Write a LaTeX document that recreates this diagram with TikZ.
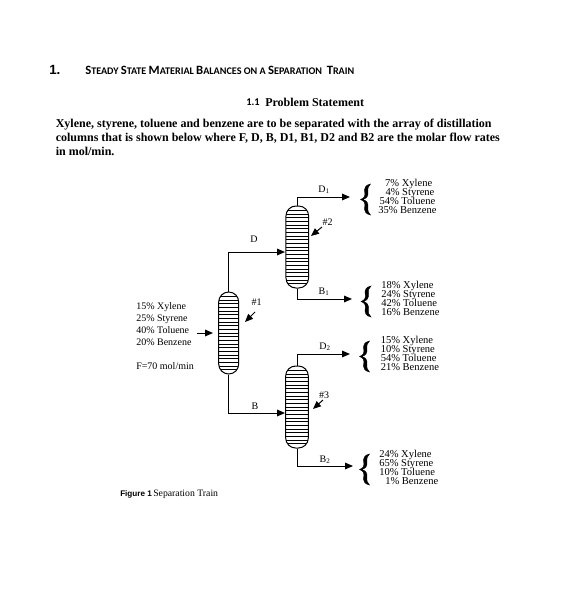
\documentclass[tikz,border=0pt]{standalone}
\usepackage{fontspec}
\usetikzlibrary{arrows.meta}
\setmainfont{Liberation Serif}
\newfontfamily\hdfont{Carlito}
\newfontfamily\arialfont{Liberation Sans}
\newcommand{\pxfont}[2]{\fontsize{#1}{#2}\selectfont}
\newcommand{\capsc}[1]{{\pxfont{9.5}{10}#1}}
\newcommand{\compfont}{\pxfont{7.9}{6.75}\lineskiplimit=-20pt\relax\lineskip=0pt\relax}
\tikzset{
  x=0.75pt,y=-0.75pt,
  flow/.style={draw,line width=0.75pt,-{Triangle[length=6pt,width=5pt]}},
  column/.style={draw,line width=0.75pt,rectangle,rounded corners=7.5pt,minimum width=17pt,minimum height=61.5pt,inner sep=0pt,
    path picture={
      \foreach \k in {-10,...,10}
        \draw[line width=0.7pt] ([yshift=\k*2.75pt]path picture bounding box.west) -- ([yshift=\k*2.75pt]path picture bounding box.east);
    }},
  txt/.style={inner sep=0pt,font=\pxfont{7.5}{9}},
  comp/.style={inner sep=0pt,font=\compfont,anchor=west},
  bracemark/.style={fill=black,draw=black,line width=0.3pt},
}
\newcommand{\bracepath}[2]{%
  \path[bracemark] (#1+10,#2) .. controls (#1+5,#2+1) and (#1+3.6,#2+4) .. (#1+4.2,#2+8)
   .. controls (#1+4.8,#2+12) and (#1+4,#2+14) .. (#1,#2+15.5)
   .. controls (#1+4,#2+17) and (#1+4.8,#2+19) .. (#1+4.2,#2+23)
   .. controls (#1+3.6,#2+27) and (#1+5,#2+30) .. (#1+10,#2+31)
   .. controls (#1+7.8,#2+29) and (#1+7.1,#2+27) .. (#1+7.4,#2+23)
   .. controls (#1+7.7,#2+19) and (#1+6.5,#2+17) .. (#1+2.5,#2+15.5)
   .. controls (#1+6.5,#2+14) and (#1+7.7,#2+12) .. (#1+7.4,#2+8)
   .. controls (#1+7.1,#2+4) and (#1+7.8,#2+2) .. (#1+10,#2) -- cycle;}
\begin{document}
\begin{tikzpicture}
\useasboundingbox[fill=white] (0,0) rectangle (563,613);
% headings
\node[inner sep=0pt,anchor=west,font=\arialfont\bfseries\pxfont{10}{12}] (num) at (49,69.5) {1.};
\node[inner sep=0pt,anchor=west,font=\hdfont\bfseries\pxfont{7.6}{9}] (title) at (85,70.5)
 {\capsc{S}TEADY \capsc{S}TATE \capsc{M}ATERIAL \capsc{B}ALANCES ON A \capsc{S}EPARATION\ \ \capsc{T}RAIN};
\node[inner sep=0pt,anchor=west,font=\hdfont\bfseries\pxfont{7.8}{9}] (sec) at (246,102.5) {1.1};
\node[inner sep=0pt,anchor=west,font=\bfseries\pxfont{9}{10}] (stmt) at (265,102) {Problem Statement};
\node[inner sep=0pt,anchor=north west,align=left,font=\bfseries\pxfont{9}{10.6}] (para) at (55.5,119)
 {Xylene, styrene, toluene and benzene are to be separated with the array of distillation\\
  columns that is shown below where F, D, B, D1, B1, D2 and B2 are the molar flow rates\\
  in mol/min.};
% columns
\node[column,minimum width=15pt] (c1) at (228.7,333) {};
\node[column] (c2) at (297.3,247) {};
\node[column] (c3) at (297,407) {};
% free ends
\coordinate (feedS) at (197,333);
\coordinate (feedE) at (213,333);
\coordinate (inTwo) at (285,252);
\coordinate (inThree) at (285,413);
\coordinate (dOneE) at (350,197);
\coordinate (bOneE) at (352,299);
\coordinate (dTwoE) at (350,354);
\coordinate (bTwoE) at (353,466);
\coordinate (aOneS) at (255,312);
\coordinate (aOneE) at (245,322);
\coordinate (aTwoS) at (322,227);
\coordinate (aTwoE) at (311,236);
\coordinate (aThreeS) at (323,400);
\coordinate (aThreeE) at (313,409);
% connectors
\draw[flow] (feedS) -- (feedE);
\draw[flow] (c1.north) |- (inTwo);
\draw[flow] (c1.south) |- (inThree);
\draw[flow] (c2.north) |- (dOneE);
\draw[flow] (c2.south) |- (bOneE);
\draw[flow] (c3.north) |- (dTwoE);
\draw[flow] (c3.south) |- (bTwoE);
\draw[flow] (aOneS) -- (aOneE);
\draw[flow] (aTwoS) -- (aTwoE);
\draw[flow] (aThreeS) -- (aThreeE);
% labels
\node[txt] (n1) at (256.5,302.5) {\#1};
\node[txt] (n2) at (327.5,222) {\#2};
\node[txt] (n3) at (324,395) {\#3};
\node[txt] (lD) at (254,239) {D};
\node[txt] (lB) at (255,406) {B};
\node[txt] (lD1) at (324,190) {D\textsubscript{1}};
\node[txt] (lB1) at (324,292) {B\textsubscript{1}};
\node[txt] (lD2) at (325,347) {D\textsubscript{2}};
\node[txt] (lB2) at (325,460) {B\textsubscript{2}};
% feed
\node[txt,anchor=north west,align=left,font=\pxfont{7.5}{9}] (feed) at (136,302)
 {15\% Xylene\\25\% Styrene\\40\% Toluene\\20\% Benzene\\[9pt]F=70 mol/min};
% products
\bracepath{360.5}{184}
\bracepath{361}{286}
\bracepath{359.5}{341}
\bracepath{359.5}{454}
\node[comp,align=center] (p1) at (378,196.5) {\ 7\% Xylene\\ \ \ 4\% Styrene\\54\% Toluene\\35\% Benzene};
\node[comp,align=left] (p2) at (381,298.5) {18\% Xylene\\24\% Styrene\\42\% Toluene\\16\% Benzene};
\node[comp,align=left] (p3) at (380.5,353) {15\% Xylene\\10\% Styrene\\54\% Toluene\\21\% Benzene};
\node[comp,align=left] (p4) at (379,467) {24\% Xylene\\65\% Styrene\\10\% Toluene\\\hspace*{4.5pt}1\% Benzene};
% caption
\node[inner sep=0pt,anchor=west,font=\arialfont\bfseries\pxfont{6.1}{8}] (figa) at (120,494) {Figure 1};
\node[inner sep=0pt,anchor=west,font=\pxfont{7.3}{8}] (figb) at (153,494) {Separation Train};
\end{tikzpicture}
\end{document}
